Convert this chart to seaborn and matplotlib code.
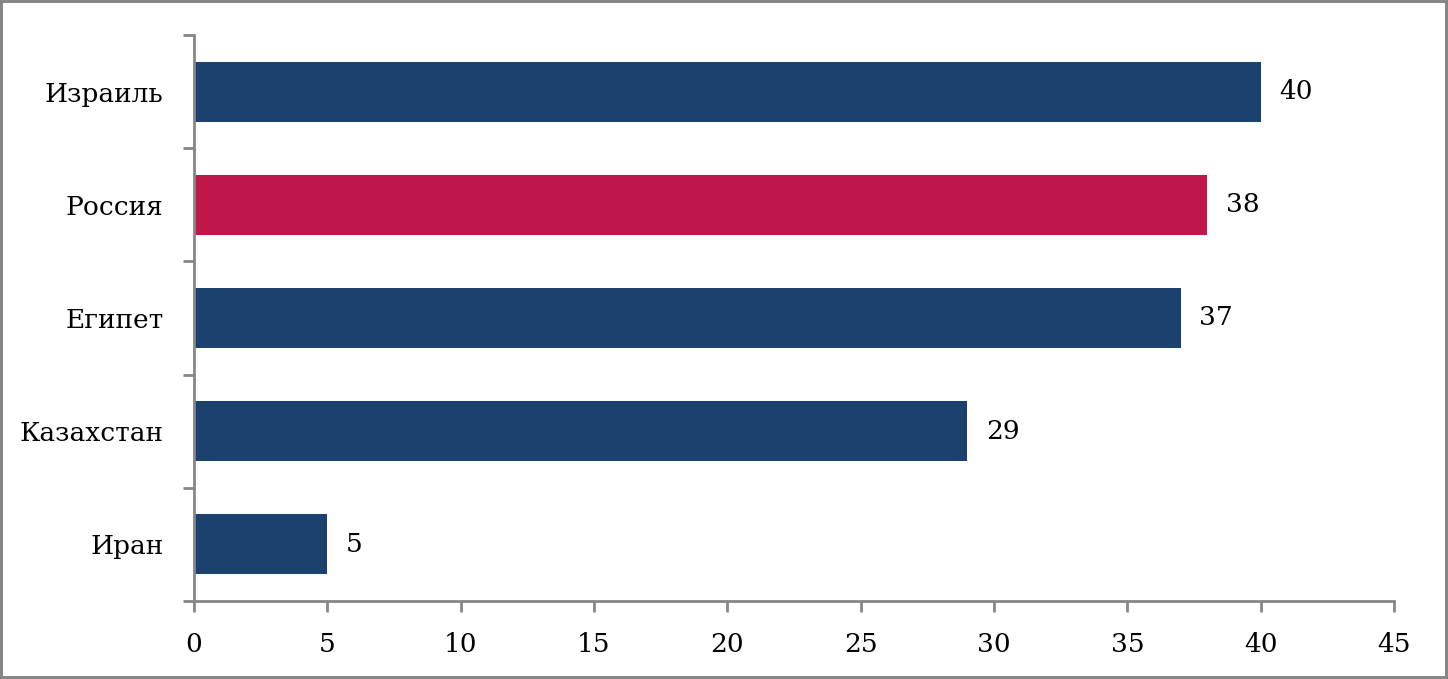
import matplotlib
matplotlib.use("Agg")
import matplotlib.pyplot as plt
import seaborn as sns
import pandas as pd

countries = ["Израиль", "Россия", "Египет", "Казахстан", "Иран"]
values = [40, 38, 37, 29, 5]
highlight = "Россия"

navy = "#1B426E"
red = "#C0174A"
gray = "#868686"

sns.set_style("white")
plt.rcParams["font.family"] = ["DejaVu Serif", "Liberation Serif"]
plt.rcParams["text.color"] = "black"
plt.rcParams["xtick.color"] = "black"
plt.rcParams["ytick.color"] = "black"

df = pd.DataFrame({"country": countries, "value": values})
colors = [red if c == highlight else navy for c in countries]

fig = plt.figure(figsize=(14.48, 6.79), dpi=100)
fig.patch.set_edgecolor(gray)
fig.patch.set_linewidth(3)
ax = fig.add_axes([194 / 1448, 1 - 601 / 679, 1200 / 1448, 566 / 679])

sns.barplot(data=df, x="value", y="country", hue="country", palette=colors,
            legend=False, width=0.53, saturation=1, linewidth=0, ax=ax)

ax.set_xlim(0, 45)
ax.set_ylim(4.5, -0.5)
ax.set_xticks(range(0, 46, 5))
ax.set_xlabel("")
ax.set_ylabel("")

# category boundaries as tick marks, labels on minor ticks
ax.set_yticks([i - 0.5 for i in range(len(countries) + 1)])
ax.set_yticklabels([])
ax.set_yticks(range(len(countries)), minor=True)
ax.set_yticklabels(countries, minor=True)
ax.tick_params(axis="y", which="minor", left=True, length=0, pad=22, labelsize=19,
               labelcolor="black")
ax.tick_params(axis="y", which="major", left=True, length=8, width=2, color=gray,
               direction="out")
ax.tick_params(axis="x", bottom=True, length=8, width=2, color=gray, direction="out",
               labelsize=19, pad=14, labelcolor="black")

for s in ["top", "right"]:
    ax.spines[s].set_visible(False)
for s in ["left", "bottom"]:
    ax.spines[s].set_color(gray)
    ax.spines[s].set_linewidth(2)

for i, v in enumerate(values):
    ax.text(v + 0.7, i, str(v), va="center", ha="left", fontsize=19, color="black")

fig.savefig("out.png", dpi=100)
